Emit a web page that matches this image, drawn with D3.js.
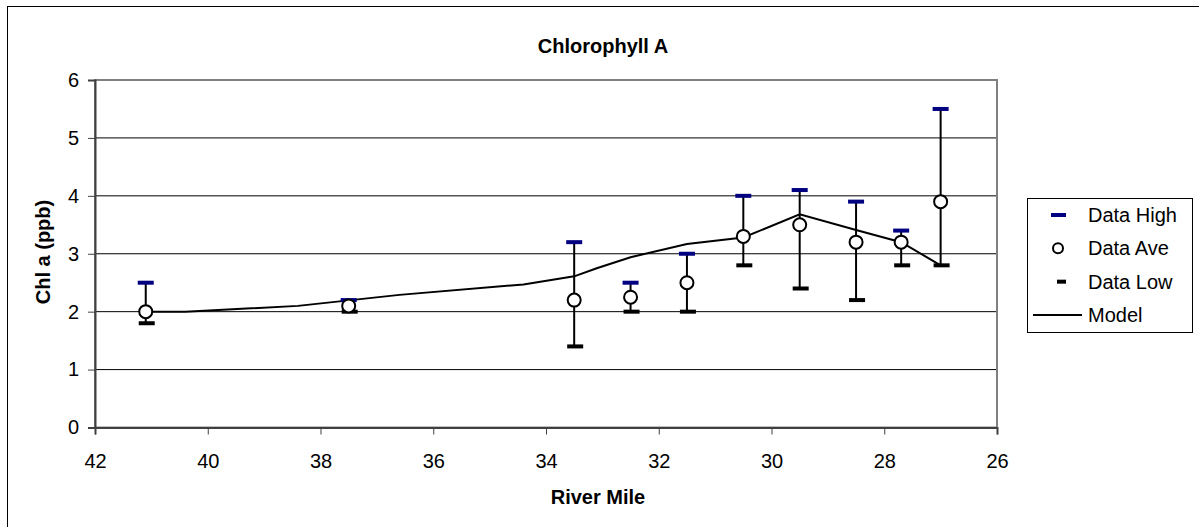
<!DOCTYPE html>
<html>
<head>
<meta charset="utf-8">
<script src="https://cdn.jsdelivr.net/npm/d3@7/dist/d3.min.js"></script>
<style>
  html, body { margin: 0; padding: 0; background: #fff; }
  svg { display: block; }
  text { font-family: Arial, "Liberation Sans", sans-serif; fill: #000; }
</style>
</head>
<body>
<script>
// ---- data ----
const riverMile = [41.1, 37.5, 33.5, 32.5, 31.5, 30.5, 29.5, 28.5, 27.7, 27.0];
const dataAve   = [2.0, 2.1, 2.2, 2.25, 2.5, 3.3, 3.5, 3.2, 3.2, 3.9];
const dataHigh  = [2.5, 2.2, 3.2, 2.5, 3.0, 4.0, 4.1, 3.9, 3.4, 5.5];
const dataLow   = [1.8, 2.0, 1.4, 2.0, 2.0, 2.8, 2.4, 2.2, 2.8, 2.8];
const modelMile = [41.1, 40.4, 38.4, 36.6, 34.4, 33.5, 33.1, 32.5, 31.5, 30.5, 29.5, 28.5, 27.7, 27.0];
const modelVal  = [2.0, 2.0, 2.1, 2.29, 2.47, 2.61, 2.75, 2.94, 3.17, 3.28, 3.68, 3.41, 3.2, 2.8];
const xTicks = [42, 40, 38, 36, 34, 32, 30, 28, 26];
const yTicks = [0, 1, 2, 3, 4, 5, 6];
const legendLabels = ["Data High", "Data Ave", "Data Low", "Model"];

(function () {
const W = 1199, H = 527;
const FS = 20;
const svg = d3.select("body").append("svg").attr("width", W).attr("height", H);
svg.append("rect").attr("width", W).attr("height", H).attr("fill", "#fff");
// outer chart border (right/bottom fall outside the picture)
svg.append("rect").attr("x", 7.5).attr("y", 6.5).attr("width", 1300).attr("height", 600)
  .attr("fill", "none").attr("stroke", "#000").attr("stroke-width", 1);

const pL = 95, pR = 997, pT = 80, pB = 427.5;
const x = d3.scaleLinear().domain([42, 26]).range([pL, pR]);
const y = d3.scaleLinear().domain([0, 6]).range([pB, pT]);

// gridlines
svg.append("g").selectAll("line").data(yTicks.filter(d => d > 0 && d < 6)).join("line")
  .attr("x1", pL).attr("x2", pR).attr("y1", d => y(d)).attr("y2", d => y(d))
  .attr("stroke", "#000").attr("stroke-width", 1);

// plot border (top / right gray)
svg.append("rect").attr("x", pL).attr("y", pT).attr("width", pR - pL).attr("height", pB - pT)
  .attr("fill", "none").attr("stroke", "#808080").attr("stroke-width", 2);

// axes
const xAxis = svg.append("g").attr("transform", `translate(0,${pB})`)
  .call(d3.axisBottom(x).tickValues(xTicks).tickSize(7).tickPadding(19).tickFormat(d3.format("d")));
const yAxis = svg.append("g").attr("transform", `translate(${pL},0)`)
  .call(d3.axisLeft(y).tickValues(yTicks).tickSize(7).tickPadding(9).tickFormat(d3.format("d")));
[xAxis, yAxis].forEach(g => {
  g.select(".domain").attr("stroke", "#404040").attr("stroke-width", 2);
  g.selectAll(".tick line").attr("stroke", "#404040").attr("stroke-width", 1);
  g.selectAll(".tick text").attr("font-size", FS).attr("font-family", "Arial, 'Liberation Sans', sans-serif").attr("fill", "#000");
});

// model line
svg.append("path").datum(modelMile.map((m, i) => [m, modelVal[i]]))
  .attr("d", d3.line().x(d => x(d[0])).y(d => y(d[1])))
  .attr("fill", "none").attr("stroke", "#000").attr("stroke-width", 2);

// error bars
const pts = riverMile.map((m, i) => ({ m, ave: dataAve[i], hi: dataHigh[i], lo: dataLow[i] }));
svg.append("g").selectAll("line").data(pts).join("line")
  .attr("x1", d => x(d.m)).attr("x2", d => x(d.m)).attr("y1", d => y(d.lo)).attr("y2", d => y(d.hi))
  .attr("stroke", "#000").attr("stroke-width", 2);
svg.append("g").selectAll("rect").data(pts).join("rect")
  .attr("x", d => x(d.m) - 8).attr("y", d => y(d.hi) - 2).attr("width", 16).attr("height", 4)
  .attr("fill", "#000080");
svg.append("g").selectAll("rect").data(pts).join("rect")
  .attr("x", d => x(d.m) - 7).attr("y", d => y(d.lo) - 2).attr("width", 16).attr("height", 4)
  .attr("fill", "#000");
svg.append("g").selectAll("circle").data(pts).join("circle")
  .attr("cx", d => x(d.m)).attr("cy", d => y(d.ave)).attr("r", 6.5)
  .attr("fill", "#fff").attr("stroke", "#000").attr("stroke-width", 2);

// titles
svg.append("text").attr("x", 603).attr("y", 53).attr("text-anchor", "middle")
  .attr("font-size", FS).attr("font-weight", "bold").text("Chlorophyll A");
svg.append("text").attr("x", 598).attr("y", 504).attr("text-anchor", "middle")
  .attr("font-size", FS).attr("font-weight", "bold").text("River Mile");
svg.append("text").attr("transform", "translate(50,252) rotate(-90)").attr("text-anchor", "middle")
  .attr("font-size", FS).attr("font-weight", "bold").text("Chl a (ppb)");

// legend
const lg = svg.append("g");
lg.append("rect").attr("x", 1027.5).attr("y", 198.5).attr("width", 165).attr("height", 134)
  .attr("fill", "#fff").attr("stroke", "#000").attr("stroke-width", 1);
const rowY = d3.scalePoint().domain(legendLabels).range([215, 315]);
lg.selectAll("text").data(legendLabels).join("text")
  .attr("x", 1088).attr("y", d => rowY(d)).attr("dy", "0.35em")
  .attr("font-size", FS).text(d => d);
lg.append("rect").attr("x", 1051).attr("y", rowY("Data High") - 2).attr("width", 15).attr("height", 4).attr("fill", "#000080");
lg.append("circle").attr("cx", 1058).attr("cy", rowY("Data Ave")).attr("r", 5)
  .attr("fill", "#fff").attr("stroke", "#000").attr("stroke-width", 2);
lg.append("rect").attr("x", 1057).attr("y", rowY("Data Low") - 2).attr("width", 9).attr("height", 4).attr("fill", "#000");
lg.append("line").attr("x1", 1033).attr("x2", 1082).attr("y1", rowY("Model")).attr("y2", rowY("Model"))
  .attr("stroke", "#000").attr("stroke-width", 2);
})();
</script>
</body>
</html>
